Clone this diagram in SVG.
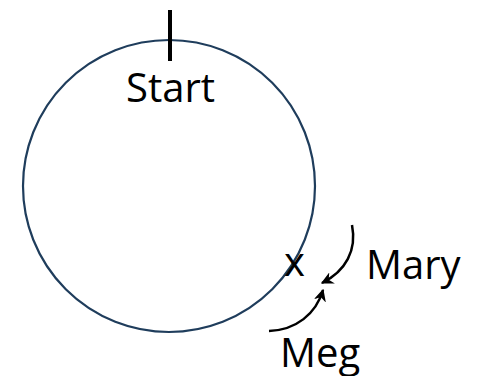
<svg xmlns="http://www.w3.org/2000/svg" width="489" height="376" viewBox="0 0 489 376">
<style>
.lbl{font-family:"Open Sans","Liberation Sans",sans-serif;font-size:40px;fill:#000}
.arr{fill:none;stroke:#000;stroke-width:2.5;marker-end:url(#ah)}
</style>
<defs>
<marker id="ah" viewBox="0 0 10 10" refX="9" refY="5" markerWidth="5" markerHeight="5" orient="auto" markerUnits="strokeWidth">
<path d="M0,0 L10,5 L0,10 L3,5 Z" fill="#000"/>
</marker>
</defs>
<g id="track">
<circle cx="169" cy="186" r="146" fill="none" stroke="#1F3D5C" stroke-width="2.2"/>
</g>
<g id="start">
<line x1="170" y1="10" x2="170" y2="61" stroke="#000" stroke-width="4"/>
<text class="lbl" x="126" y="102" font-size="39">Start</text>
</g>
<g id="x-mark">
<text class="lbl" x="284" y="276" font-size="41">x</text>
</g>
<g id="mary">
<text class="lbl" x="366" y="279" font-size="41">Mary</text>
</g>
<g id="meg">
<text class="lbl" x="280" y="367" font-size="41">Meg</text>
</g>
<g id="connectors">
<path class="arr" d="M352,225 C357,250 346,271 322,283"/>
<path class="arr" d="M269,331 C296,330 316,314 323,290"/>
</g>
</svg>
